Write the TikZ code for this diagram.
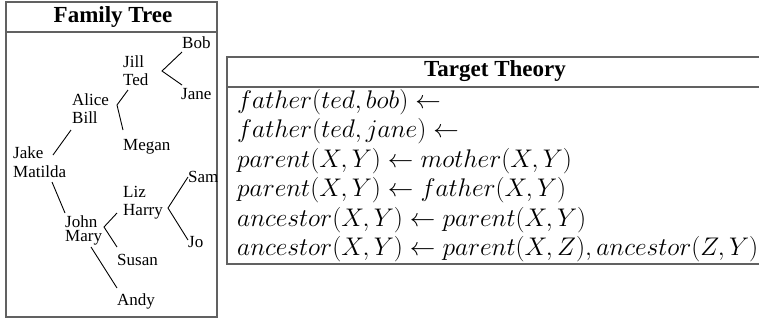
\RequirePackage{fix-cm}
\documentclass[tikz,border=0pt]{standalone}
\usepackage[no-math]{fontspec}
\setmainfont{Liberation Serif}
\tikzset{
  frame/.style={draw=black!62, line width=1.2pt},
  edge/.style={draw=black, line width=0.9pt},
  person/.style={anchor=base west, inner sep=0pt, font=\fontsize{17}{20}\selectfont},
  heading/.style={inner sep=0pt, font=\fontsize{23}{27}\selectfont\bfseries},
  rule/.style={anchor=base west, inner sep=0pt, font=\fontsize{25.5}{30}\selectfont},
}
\begin{document}
\begin{tikzpicture}[x=1pt,y=-1pt]
\useasboundingbox (0,0) rectangle (759,322);

% ---------- family tree panel ----------
\draw[frame] (6,2) rectangle (217,317);
\draw[frame] (6,32) -- (217,32);
\node[heading] (ftitle) at (113,17) {Family Tree};

\begin{scope}
\clip (6,32) rectangle (217,317);
\node[person] (bob)     at (182,48)  {Bob};
\node[person] (jill)    at (123,67)  {Jill};
\node[person] (ted)     at (123,85)  {Ted};
\node[person] (jane)    at (181,99)  {Jane};
\node[person] (alice)   at (72,105)  {Alice};
\node[person] (bill)    at (72,123)  {Bill};
\node[person] (megan)   at (123,150) {Megan};
\node[person] (jake)    at (13,158)  {Jake};
\node[person] (matilda) at (13,177)  {Matilda};
\node[person] (sam)     at (188,182) {Sam};
\node[person] (liz)     at (123,197) {Liz};
\node[person] (harry)   at (123,215) {Harry};
\node[person] (john)    at (65,227)  {John};
\node[person] (mary)    at (65,241)  {Mary};
\node[person] (jo)      at (188,247) {Jo};
\node[person] (susan)   at (117,265) {Susan};
\node[person] (andy)    at (117,305) {Andy};

% fork points beside each couple
\coordinate (jt-fork) at (162,71);
\coordinate (ab-fork) at (117,105);
\coordinate (jm-fork) at (104,227);
\coordinate (lh-fork) at (168,208);

% edge ends near each child
\coordinate (bob-in)   at (182,52);
\coordinate (jane-in)  at (182,85);
\coordinate (ted-in)   at (128,90);
\coordinate (megan-in) at (123,130);
\coordinate (jake-out) at (53,155);
\coordinate (bill-in)  at (71,130);
\coordinate (mat-out)  at (52,182);
\coordinate (john-in)  at (65,213);
\coordinate (liz-in)   at (117,213);
\coordinate (susan-in) at (117,247);
\coordinate (sam-in)   at (188,177);
\coordinate (jo-in)    at (188,240);
\coordinate (mary-out) at (91,247);
\coordinate (andy-in)  at (117,288);

\draw[edge] (bob-in) -- (jt-fork) -- (jane-in);
\draw[edge] (ted-in) -- (ab-fork) -- (megan-in);
\draw[edge] (jake-out) -- (bill-in);
\draw[edge] (mat-out) -- (john-in);
\draw[edge] (liz-in) -- (jm-fork) -- (susan-in);
\draw[edge] (sam-in) -- (lh-fork) -- (jo-in);
\draw[edge] (mary-out) -- (andy-in);
\end{scope}

% ---------- target theory panel ----------
\draw[frame] (227,57) rectangle (763,264);
\draw[frame] (227,87) -- (763,87);
\node[heading] (ttitle) at (495,71) {Target Theory};

\node[rule] (r1) at (237,108) {$father(ted, bob) \leftarrow$};
\node[rule] (r2) at (237,137) {$father(ted, jane) \leftarrow$};
\node[rule] (r3) at (237,167) {$parent(X, Y) \leftarrow mother(X, Y)$};
\node[rule] (r4) at (237,196) {$parent(X, Y) \leftarrow father(X, Y)$};
\node[rule] (r5) at (237,226) {$ancestor(X, Y) \leftarrow parent(X, Y)$};
\node[rule] (r6) at (237,255) {$ancestor(X, Y) \leftarrow parent(X, Z), ancestor(Z, Y)$};
\end{tikzpicture}
\end{document}
